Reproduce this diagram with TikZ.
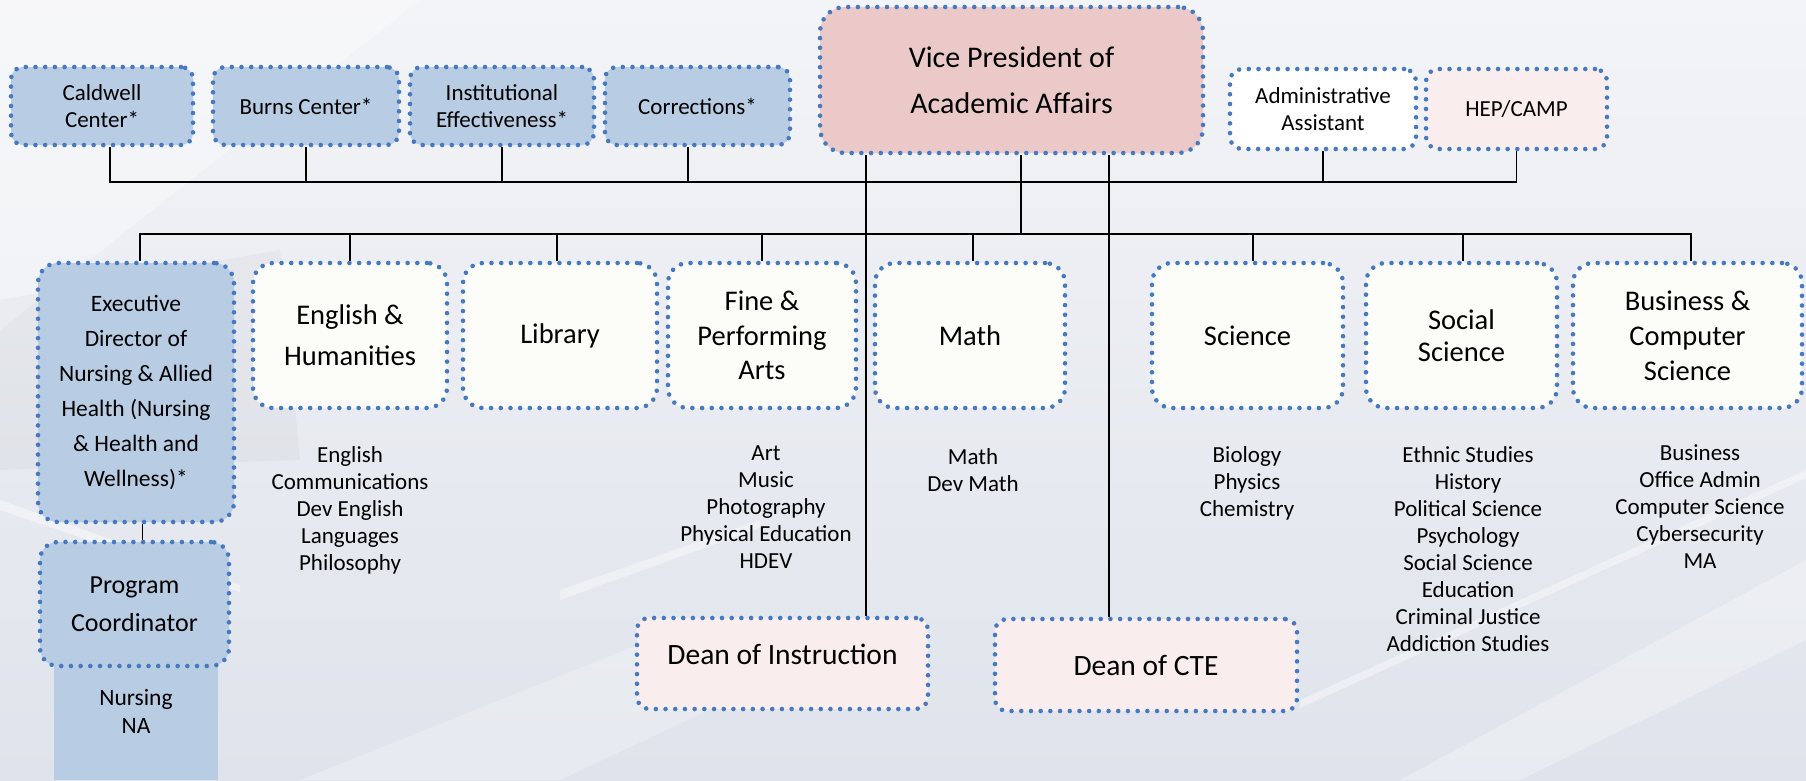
\documentclass[tikz,border=0pt]{standalone}
\usepackage{fontspec}
\setmainfont{Carlito}
\definecolor{dotblue}{HTML}{4779BE}
\definecolor{boxblue}{HTML}{B8CCE4}
\definecolor{vppink}{HTML}{ECC9C9}
\definecolor{lightpink}{HTML}{F9EDED}
\definecolor{ivory}{HTML}{FCFDF8}
\definecolor{bgtop}{HTML}{F3F4F7}
\definecolor{bgbot}{HTML}{DFE3EB}
\tikzset{
  dotbox/.style={draw=dotblue, line width=4.6pt, dash pattern=on 0pt off 9.7pt,
    line cap=round, inner sep=0pt, align=center},
  topbox/.style={dotbox, fill=boxblue, rounded corners=12pt, minimum height=78pt,
    font=\fontsize{23}{27.5}\selectfont},
  deptbox/.style={dotbox, fill=ivory, rounded corners=20pt, minimum height=145pt},
  deanbox/.style={dotbox, fill=lightpink, rounded corners=12pt, font=\fontsize{29.5}{34}\selectfont},
  listtext/.style={anchor=north, inner sep=0pt, align=center, font=\fontsize{23}{27}\selectfont},
  conn/.style={draw=black, line width=1.8pt},
}
\begin{document}
\begin{tikzpicture}[x=1pt,y=-1pt]
\useasboundingbox (0,0) rectangle (1806,780);
% background
\shade[top color=bgtop, bottom color=bgbot] (0,0) rectangle (1806,780);
\fill[white, opacity=0.35] (0,0) -- (420,0) -- (0,330) -- cycle;
\fill[gray, opacity=0.06] (0,300) -- (280,250) -- (300,460) -- (0,470) -- cycle;
\fill[white, opacity=0.45] (0,500) -- (240,585) -- (240,592) -- (0,510) -- cycle;
\fill[white, opacity=0.40] (560,590) -- (760,520) -- (760,528) -- (560,600) -- cycle;
\fill[white, opacity=0.30] (1400,780) -- (1806,560) -- (1806,640) -- (1520,780) -- cycle;
\fill[white, opacity=0.40] (1300,700) -- (1806,470) -- (1806,478) -- (1300,708) -- cycle;
\fill[white, opacity=0.25] (300,780) -- (700,620) -- (900,620) -- (560,780) -- cycle;

\coordinate (h1) at (0,182);
\coordinate (h2) at (0,234);

% top row
\node[topbox, minimum width=182pt] (cald) at (102,106) {Caldwell\\Center*};
\node[topbox, minimum width=186pt] (burns) at (306,106) {Burns Center*};
\node[topbox, minimum width=184pt] (inst) at (502,106) {Institutional\\Effectiveness*};
\node[topbox, minimum width=185pt] (corr) at (697.5,106) {Corrections*};
\node[dotbox, fill=vppink, rounded corners=25pt, minimum width=383pt, minimum height=146pt,
  font=\fontsize{30}{46}\selectfont] (vp) at (1011.5,80) {Vice President of\\Academic Affairs};
\node[topbox, fill=white, minimum width=186pt, minimum height=80pt,
  font=\fontsize{23}{26.5}\selectfont] (admin) at (1323,109) {Administrative\\Assistant};
\node[topbox, fill=lightpink, minimum width=181pt, minimum height=80pt] (hep) at (1516.5,109) {HEP/CAMP};

% department row
\fill[boxblue] (47,268) rectangle (226,300);
\node[dotbox, fill=boxblue, rounded corners=20pt, minimum width=196pt, minimum height=259pt,
  font=\fontsize{23.5}{35}\selectfont] (exec) at (136,392.5)
  {Executive\\Director of\\Nursing \& Allied\\Health (Nursing\\\& Health and\\Wellness)*};
\node[deptbox, minimum width=194pt, font=\fontsize{28.5}{41}\selectfont] (eng) at (350,335.5) {English \&\\Humanities};
\node[deptbox, minimum width=194pt, font=\fontsize{28.5}{34}\selectfont] (lib) at (560,335.5) {Library};
\node[deptbox, minimum width=188pt, font=\fontsize{28.5}{34.5}\selectfont] (fine) at (762,335.5) {Fine \&\\Performing\\Arts};
\node[deptbox, minimum width=190pt, font=\fontsize{28.5}{34}\selectfont] (math) at (970,335.5) {Math};
\node[deptbox, minimum width=191pt, font=\fontsize{28.5}{34}\selectfont] (sci) at (1247.5,335.5) {Science};
\node[deptbox, minimum width=191pt, font=\fontsize{28.5}{32}\selectfont] (soc) at (1461.5,335.5) {Social\\Science};
\node[deptbox, minimum width=229pt, font=\fontsize{28.5}{35}\selectfont] (bus) at (1687.5,335.5) {Business \&\\Computer\\Science};

% program coordinator and nursing
\fill[boxblue] (54,660) rectangle (218,780);
\node[dotbox, fill=boxblue, rounded corners=18pt, minimum width=189pt, minimum height=124pt,
  font=\fontsize{26}{38}\selectfont] (pc) at (134.5,604) {Program\\Coordinator};
\node[listtext, font=\fontsize{23.5}{28}\selectfont] (nurs) at (136,689) {Nursing\\NA};

% lists
\node[listtext] (englist) at (350,446) {English\\Communications\\Dev English\\Languages\\Philosophy};
\node[listtext] (finelist) at (766,446) {Art\\Music\\Photography\\Physical Education\\HDEV};
\node[listtext] (mathlist) at (973,448) {Math\\Dev Math};
\node[listtext] (scilist) at (1247,446) {Biology\\Physics\\Chemistry};
\node[listtext] (soclist) at (1468,446) {Ethnic Studies\\History\\Political Science\\Psychology\\Social Science\\Education\\Criminal Justice\\Addiction Studies};
\node[listtext] (buslist) at (1700,444) {Business\\Office Admin\\Computer Science\\Cybersecurity\\MA};

% deans
\node[deanbox, minimum width=291pt, minimum height=91pt, text depth=18pt] (dinst) at (782.5,663.5) {Dean of Instruction};
\node[deanbox, minimum width=302pt, minimum height=92pt] (dcte) at (1146,665) {Dean of CTE};

% connectors, top bus
\draw[conn] ([xshift=8pt]cald.south) -- ([xshift=8pt]cald.south |- h1) -- (hep.south |- h1) -- (hep.south);
\draw[conn] (burns.south) -- (burns.south |- h1);
\draw[conn] (inst.south) -- (inst.south |- h1);
\draw[conn] ([xshift=-9.5pt]corr.south) -- ([xshift=-9.5pt]corr.south |- h1);
\draw[conn] (admin.south) -- (admin.south |- h1);

% VP stems
\draw[conn] ([xshift=-145.5pt]vp.south) -- ([xshift=-145.5pt]vp.south |- dinst.north);
\draw[conn] ([xshift=97.5pt]vp.south) -- ([xshift=97.5pt]vp.south |- dcte.north);
\draw[conn] ([xshift=9.5pt]vp.south) -- ([xshift=9.5pt]vp.south |- h2);

% second bus
\draw[conn] ([xshift=4pt]exec.north) -- ([xshift=4pt]exec.north |- h2) -- ([xshift=3.5pt]bus.north |- h2) -- ([xshift=3.5pt]bus.north);
\draw[conn] (eng.north) -- (eng.north |- h2);
\draw[conn] ([xshift=-3pt]lib.north) -- ([xshift=-3pt]lib.north |- h2);
\draw[conn] (fine.north) -- (fine.north |- h2);
\draw[conn] ([xshift=3pt]math.north) -- ([xshift=3pt]math.north |- h2);
\draw[conn] ([xshift=5.5pt]sci.north) -- ([xshift=5.5pt]sci.north |- h2);
\draw[conn] ([xshift=1.5pt]soc.north) -- ([xshift=1.5pt]soc.north |- h2);

% exec to program coordinator
\draw[conn] ([xshift=6.5pt]exec.south) -- ([xshift=8pt]pc.north);
\end{tikzpicture}
\end{document}
